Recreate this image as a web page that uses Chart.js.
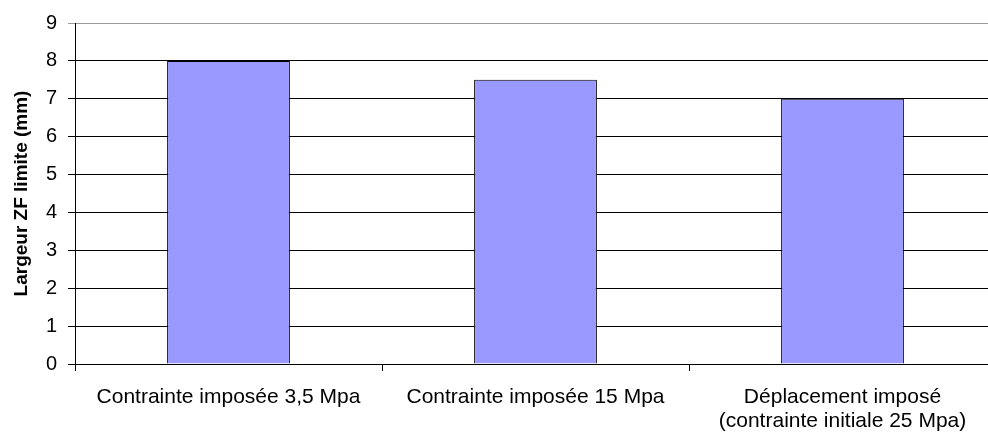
<!DOCTYPE html>
<html>
<head>
<meta charset="utf-8">
<script src="https://cdn.jsdelivr.net/npm/chart.js@4.4.0/dist/chart.umd.min.js"></script>
<style>
  html, body { margin: 0; padding: 0; background: #fff; overflow: hidden; }
  #wrap { width: 1000px; height: 439px; position: relative; }
</style>
</head>
<body>
<div id="wrap"><canvas id="myChart"></canvas></div>
<script>
const categories = [
    'Contrainte imposée 3,5 Mpa',
    'Contrainte imposée 15 Mpa',
    ['Déplacement imposé', '(contrainte initiale 25 Mpa)']
];
const largeurValues = [8, 7.5, 7];
const yMin = 0;
const yMax = 9;
const yStep = 1;
const yTitle = 'Largeur ZF limite (mm)';

const fontFamily = "'Liberation Sans', Arial, sans-serif";

const ctx = document.getElementById('myChart').getContext('2d');
const myChart = new Chart(ctx, {
    type: 'bar',
    data: {
        labels: categories,
        datasets: [{
            data: largeurValues,
            backgroundColor: '#9999FF',
            borderColor: '#000',
            borderWidth: 1,
            categoryPercentage: 1,
            barPercentage: 0.4
        }]
    },
    options: {
        responsive: true,
        maintainAspectRatio: false,
        animation: false,
        layout: { padding: { left: 0, right: 4, top: 20, bottom: 0 } },
        plugins: {
            legend: { display: false },
            tooltip: { enabled: false }
        },
        scales: {
            x: {
                offset: true,
                grid: {
                    offset: true,
                    drawOnChartArea: false,
                    drawTicks: true,
                    tickLength: 7,
                    color: '#000'
                },
                border: { color: '#000', width: 1 },
                ticks: {
                    color: '#000',
                    padding: 14,
                    maxRotation: 0,
                    font: { family: fontFamily, size: 21, lineHeight: 1.15 }
                },
                afterFit(scale) { scale.height = 75; }
            },
            y: {
                min: yMin,
                max: yMax,
                grid: {
                    color: (c) => (c.tick && c.tick.value === yMax ? '#999' : '#000'),
                    tickLength: 7
                },
                border: { color: '#000', width: 1 },
                ticks: {
                    stepSize: yStep,
                    color: '#000',
                    padding: 11,
                    font: { family: fontFamily, size: 20 }
                },
                title: {
                    display: true,
                    text: yTitle,
                    color: '#000',
                    padding: { top: 10, bottom: 0 },
                    font: { family: fontFamily, size: 19, weight: 'bold' }
                },
                afterFit(scale) { scale.width = 75; }
            }
        }
    }
});
</script>
</body>
</html>
